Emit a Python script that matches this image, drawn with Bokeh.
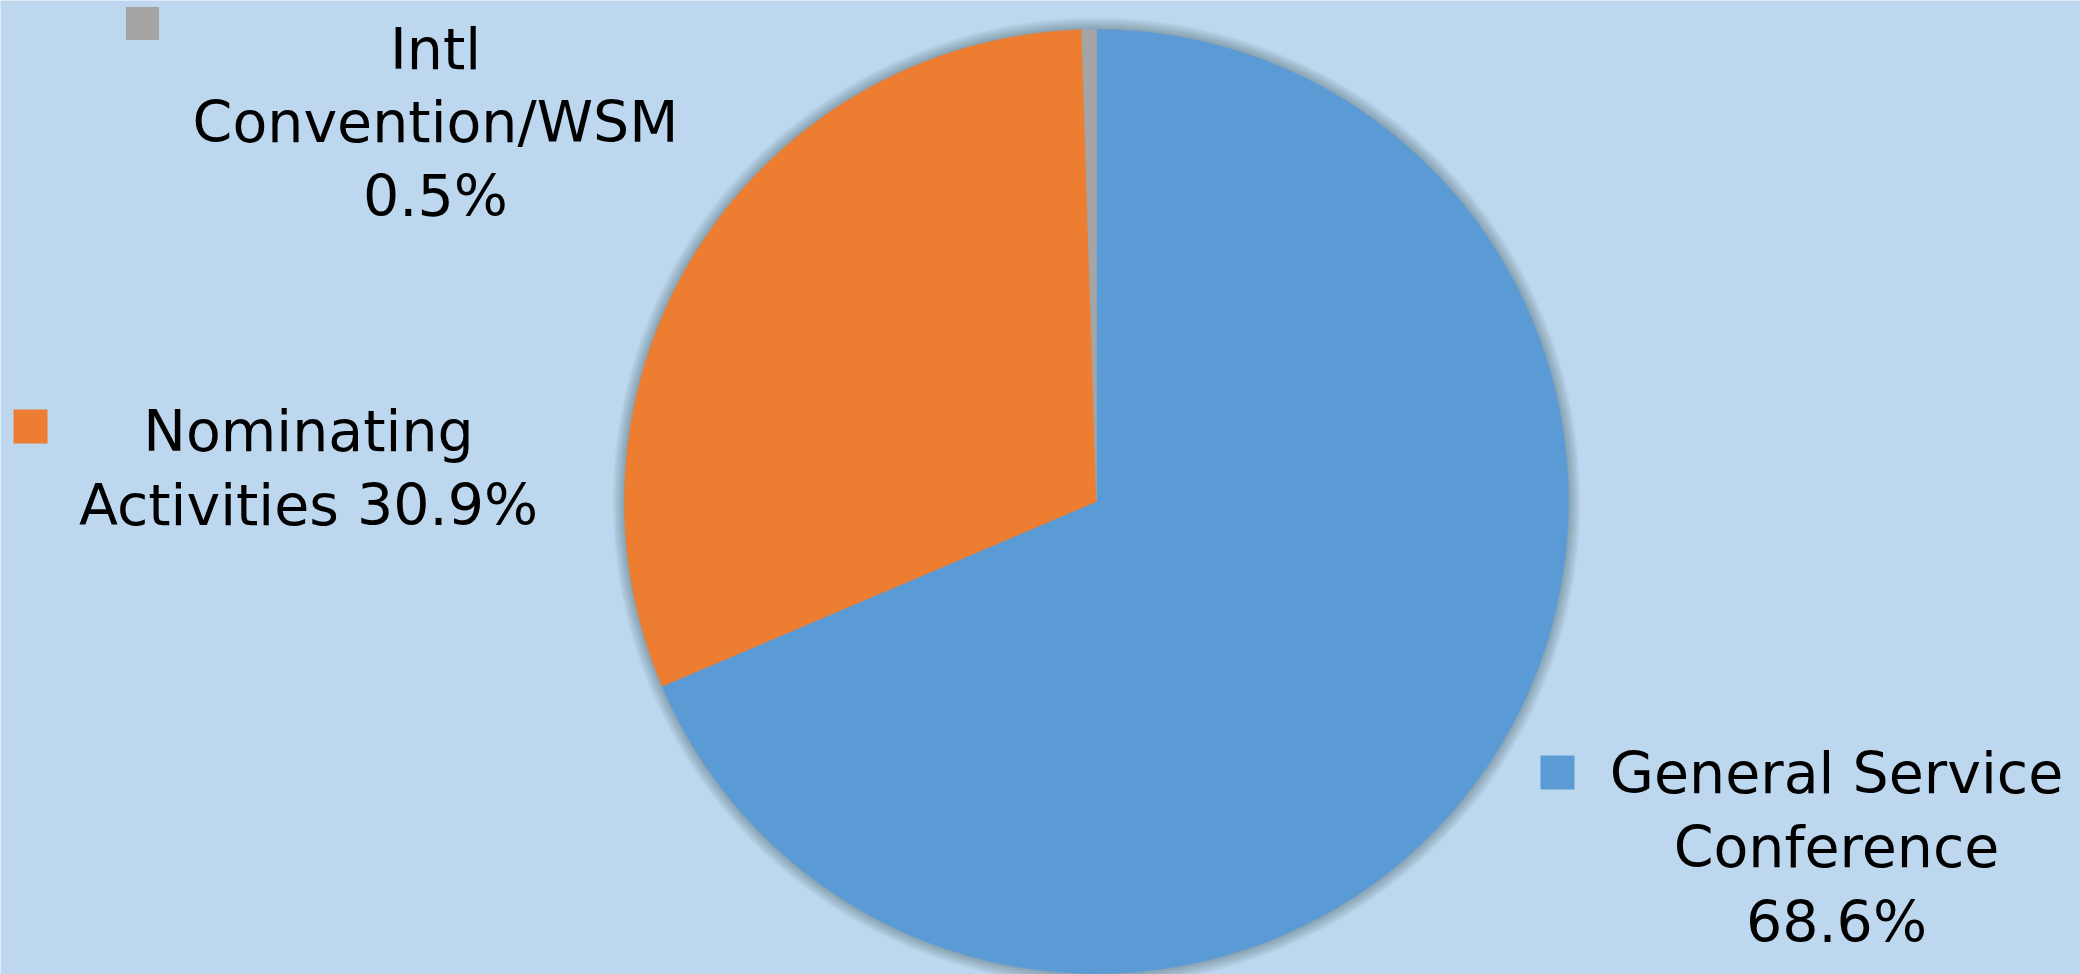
import math
from bokeh.plotting import figure
from bokeh.models import Range1d, ColumnDataSource
from bokeh.core.properties import value
from bokeh.embed import file_html
from bokeh.resources import INLINE

# ---- data ----
categories = ["General Service Conference", "Nominating Activities", "Intl Convention/WSM"]
shares = [68.6, 30.9, 0.5]
colors = ["#5B9BD5", "#ED7D31", "#A5A5A5"]
label_lines = [
    ["General Service", "Conference", "68.6%"],
    ["Nominating", "Activities 30.9%"],
    ["Intl", "Convention/WSM", "0.5%"],
]

# ---- layout (reference pixel coordinates, y downward) ----
W, H = 2080, 974
BG = "#BDD7EE"
CX, CY, R = 1096, 501, 472
TEXT_SHIFT = 21  # svg baseline correction

def fy(y):
    return H - y

p = figure(width=W, height=H, output_backend="svg", toolbar_location=None,
           x_range=Range1d(0, W), y_range=Range1d(0, H),
           background_fill_color=BG, border_fill_color=BG, min_border=0)
p.axis.visible = False
p.grid.visible = False
p.outline_line_color = None

# soft shadow around the pie
for k in range(1, 13):
    p.circle(x=CX, y=fy(CY), radius=R + k, fill_color="#34495e", fill_alpha=0.035,
             line_color=None)

total = sum(shares)
starts, ends = [], []
cum = 0.0
for s in shares:
    starts.append(math.pi / 2 - 2 * math.pi * cum / total)
    cum += s
    ends.append(math.pi / 2 - 2 * math.pi * cum / total)

src = ColumnDataSource(dict(start=starts, end=ends, color=colors, cat=categories))
p.wedge(x=CX, y=fy(CY), radius=R, start_angle="start", end_angle="end",
        direction="clock", fill_color="color", line_color="color", line_width=0.5,
        source=src)

# labels: key square (center x, center y, size), text (center x, first baseline, spacing)
label_pos = [
    ((1557, 772, 34), (1836, 793, 74.5)),
    ((30, 426, 34), (308, 451, 74)),
    ((142, 23, 33), (435, 69, 73.5)),
]
for (sq, tp), lines, col in zip(label_pos, label_lines, colors):
    sx, sy, ss = sq
    p.rect(x=sx, y=fy(sy), width=ss, height=ss, fill_color=col, line_color=None)
    tx, ty, ls = tp
    xs = [tx] * len(lines)
    ys = [fy(ty - TEXT_SHIFT + i * ls) for i in range(len(lines))]
    p.text(x=xs, y=ys, text=lines, text_font=value("DejaVu Sans"),
           text_font_size="57px", text_align="center", text_baseline="alphabetic",
           text_color="#000000")

open("out.html", "w").write(file_html(p, INLINE))
